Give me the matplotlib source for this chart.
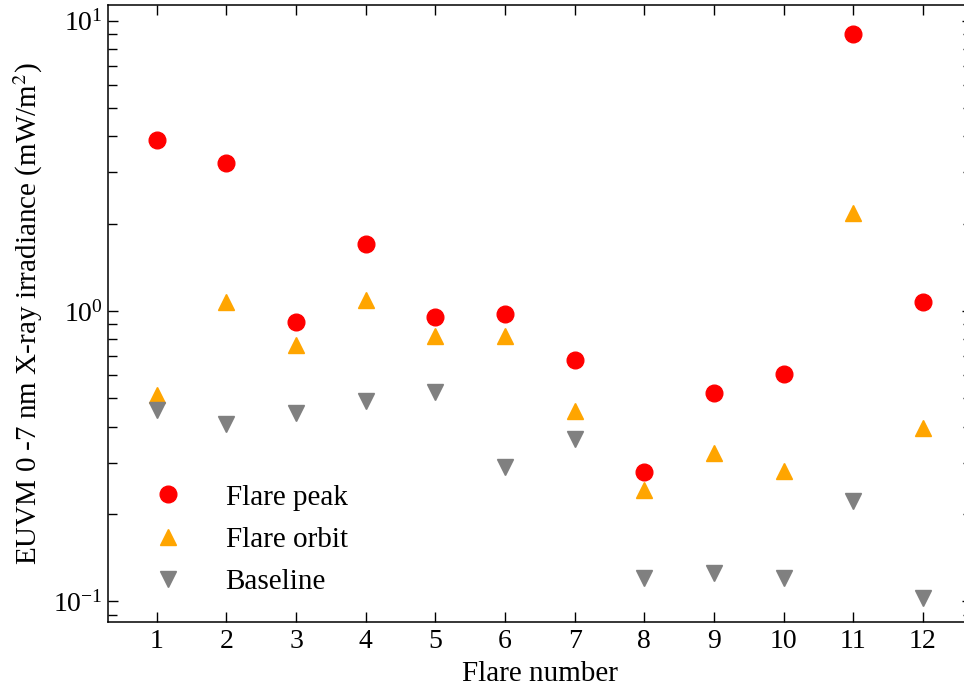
import numpy as np
import matplotlib
matplotlib.use('Agg')
import matplotlib.pyplot as plt

plt.rcParams['font.family'] = ['Liberation Serif', 'DejaVu Serif']
plt.rcParams['mathtext.fontset'] = 'stix'

# data
flare = np.arange(1, 13)
peak = [3.88, 3.23, 0.92, 1.70, 0.95, 0.98, 0.68, 0.279, 0.522, 0.607, 8.99, 1.07]
orbit = [0.514, 1.07, 0.764, 1.09, 0.82, 0.82, 0.453, 0.242, 0.325, 0.281, 2.17, 0.396]
baseline = [0.456, 0.408, 0.445, 0.490, 0.526, 0.290, 0.362, 0.1205, 0.125, 0.1205, 0.222, 0.1028]

fig = plt.figure(figsize=(9.64, 6.9), dpi=100)
ax = fig.add_axes([0.112, 0.0986, 0.896, 0.894])

ax.plot(flare, peak, 'o', color='#ff0000', markersize=12, label='Flare peak')
ax.plot(flare, orbit, '^', color='#ffa500', markersize=12, label='Flare orbit')
ax.plot(flare, baseline, 'v', color='#808080', markersize=12, label='Baseline')

ax.set_yscale('log')
ax.set_ylim(0.085, 11.3)
ax.set_xlim(0.3, 12.7)
ax.set_xticks(flare)
ax.minorticks_off()
ax.yaxis.set_minor_locator(matplotlib.ticker.LogLocator(base=10, subs=np.arange(2, 10)))
ax.yaxis.set_minor_formatter(matplotlib.ticker.NullFormatter())

ax.tick_params(which='both', direction='in', top=True, right=True, labelsize=20)
ax.tick_params(axis='x', pad=5)
ax.tick_params(which='major', length=7, width=1)
ax.tick_params(which='minor', length=6.5, width=1)
ax.tick_params(axis='x', which='minor', top=False, bottom=False)
for s in ax.spines.values():
    s.set_linewidth(1.1)

ax.set_xlabel('Flare number', fontsize=21, labelpad=5)
ax.set_ylabel('EUVM 0 -7 nm X-ray irradiance (mW/m$^2$)', fontsize=21, labelpad=6)

ax.legend(loc='lower left', bbox_to_anchor=(0.022, 0.024), frameon=False, fontsize=21,
          handletextpad=0.98, labelspacing=0.55, borderaxespad=0)

fig.savefig('out.png', dpi=100)
